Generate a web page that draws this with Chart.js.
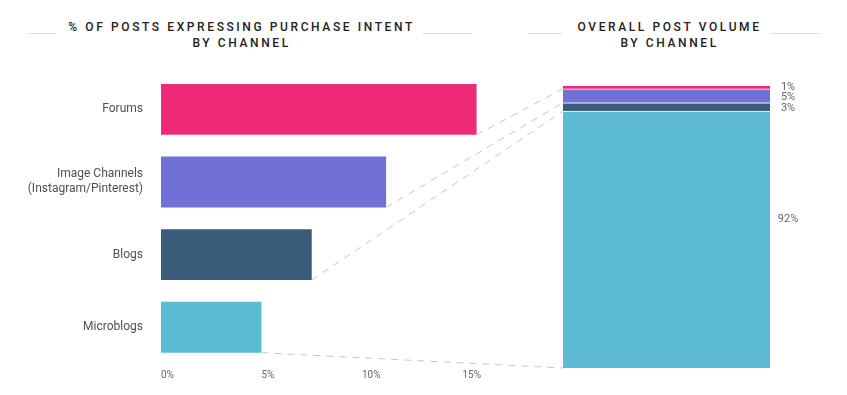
<!DOCTYPE html>
<html>
<head>
<meta charset="utf-8">
<title>Purchase intent by channel</title>
<script src="https://cdn.jsdelivr.net/npm/chart.js@4.4.1/dist/chart.umd.min.js"></script>
<style>
body { margin: 0; background: #fff; font-family: Roboto, sans-serif; }
#lienzo { position: relative; width: 847px; height: 395px; overflow: hidden; }
#lienzo canvas { position: absolute; left: 0; top: 0; }
.titulo { position: absolute; top: 19px; width: 400px; text-align: center; font-size: 12px; font-weight: 500;
          letter-spacing: 2.6px; padding-left: 2.6px; color: #222; line-height: 16px; white-space: nowrap; }
.raya { position: absolute; top: 33px; height: 1px; background: #dcdcdc; }
</style>
</head>
<body>
<div id="lienzo">
  <div class="raya" style="left:28px;width:28px"></div>
  <div class="raya" style="left:423px;width:49px"></div>
  <div class="titulo" style="left:39px">% OF POSTS EXPRESSING PURCHASE INTENT<br>BY CHANNEL</div>
  <div class="raya" style="left:528px;width:34px"></div>
  <div class="raya" style="left:770px;width:49px"></div>
  <div class="titulo" style="left:467px">OVERALL POST VOLUME<br>BY CHANNEL</div>
  <canvas id="intencion" width="847" height="395"></canvas>
  <canvas id="volumen" width="847" height="395"></canvas>
</div>
<script>
"use strict";

////////////////////////////////////////////////////// datos
const canales = ["Forums", ["Image Channels", "(Instagram/Pinterest)"], "Blogs", "Microblogs"];
const intencion = [15.7, 11.2, 7.5, 5.0];          // % posts con intención de compra
const volumen = [1, 5, 3, 92];                      // % del volumen total de posts
const etiquetasVolumen = ["1%", "5%", "3%", "92%"];
const ticksX = [0, 5, 10, 15];
const etiquetasX = ["0%", "5%", "10%", "15%"];

const colores = ["#ef2a79", "#7170d7", "#3a5b79", "#5bbcd3"];

////////////////////////////////////////////////////// gráfico izquierdo
const graficoIntencion = new Chart(document.getElementById("intencion"), {
    type: "bar",
    data: {
        labels: canales,
        datasets: [{
            data: intencion,
            backgroundColor: colores,
            barPercentage: 0.7,
            categoryPercentage: 1,
        }],
    },
    options: {
        indexAxis: "y",
        responsive: false,
        animation: false,
        layout: { padding: { top: 73, right: 284, bottom: 0, left: 0 } },
        plugins: { legend: { display: false }, tooltip: { enabled: false } },
        scales: {
            x: {
                min: 0,
                max: 20,
                grid: { display: false, drawTicks: false },
                border: { display: false },
                afterBuildTicks: (s) => { s.ticks = ticksX.map((v) => ({ value: v })); },
                afterFit: (s) => { s.height = 31.4; },
                ticks: {
                    align: "start",
                    padding: 6,
                    color: "#666",
                    font: { family: "Roboto", size: 10 },
                    callback: (v, i) => etiquetasX[i],
                },
            },
            y: {
                grid: { display: false, drawTicks: false },
                border: { display: false },
                afterFit: (s) => { s.width = 161; },
                ticks: {
                    padding: 18,
                    color: "#505050",
                    font: { family: "Roboto", size: 12, lineHeight: 1.25 },
                },
            },
        },
    },
});

////////////////////////////////////////////////////// plugins del gráfico derecho
const lineasUnion = {
    id: "lineasUnion",
    beforeDatasetsDraw(chart) {
        const ctx = chart.ctx;
        const izq = graficoIntencion.getDatasetMeta(0).data;
        ctx.save();
        ctx.strokeStyle = "#c6c6c6";
        ctx.lineWidth = 1;
        ctx.setLineDash([7, 6]);
        chart.data.datasets.forEach((ds, d) => {
            const seg = chart.getDatasetMeta(d).data[0];
            const bar = izq[ds.canal];
            ctx.beginPath();
            ctx.moveTo(bar.x, bar.y + bar.height / 2);
            ctx.lineTo(seg.x - seg.width / 2, seg.base);
            ctx.stroke();
        });
        ctx.restore();
    },
};

const etiquetasSegmentos = {
    id: "etiquetasSegmentos",
    afterDatasetsDraw(chart) {
        const ctx = chart.ctx;
        ctx.save();
        ctx.fillStyle = "#666";
        ctx.font = "11px Roboto";
        ctx.textAlign = "center";
        ctx.textBaseline = "middle";
        // de arriba abajo, sin que se monten las etiquetas
        var ultimaY = -Infinity;
        chart.data.datasets.slice().reverse().forEach((ds) => {
            const seg = chart.getDatasetMeta(chart.data.datasets.indexOf(ds)).data[0];
            const alto = seg.base - seg.y;
            let y = Math.max(seg.y + alto * 0.42, ultimaY + 10.5);
            ctx.fillText(ds.etiqueta, seg.x + seg.width / 2 + 18, y);
            ultimaY = y;
        });
        ctx.restore();
    },
};

////////////////////////////////////////////////////// gráfico derecho (apilado)
var datasetsVolumen = [];
canales.forEach((c, i) => {
    datasetsVolumen.push({
        canal: i,
        etiqueta: etiquetasVolumen[i],
        data: [volumen[i]],
        backgroundColor: colores[i],
        borderColor: "#fff",
        borderWidth: i === 0 ? 0 : { top: 1, right: 0, bottom: 0, left: 0 },
        borderSkipped: false,
        barPercentage: 1,
        categoryPercentage: 1,
    });
});
datasetsVolumen.reverse(); // el primero queda abajo

new Chart(document.getElementById("volumen"), {
    type: "bar",
    data: { labels: ["volumen"], datasets: datasetsVolumen },
    options: {
        responsive: false,
        animation: false,
        layout: { padding: { top: 86, right: 77, bottom: 27, left: 563 } },
        plugins: { legend: { display: false }, tooltip: { enabled: false } },
        scales: {
            x: { display: false, stacked: true },
            y: { display: false, stacked: true, min: 0, max: volumen.reduce((a, b) => a + b, 0) },
        },
    },
    plugins: [lineasUnion, etiquetasSegmentos],
});
</script>
</body>
</html>
